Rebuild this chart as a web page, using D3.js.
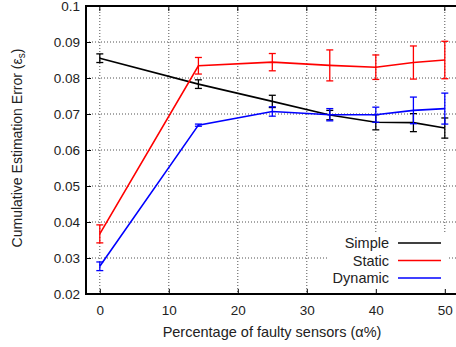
<!DOCTYPE html>
<html>
<head>
<meta charset="utf-8">
<script src="https://cdn.jsdelivr.net/npm/d3@7"></script>
<style>
  html, body { margin: 0; padding: 0; background: #fff; }
  svg { display: block; }
  text { font-family: "Liberation Sans", Arial, sans-serif; fill: #222; }
</style>
</head>
<body>
<svg id="chart" width="456" height="347"></svg>
<script>
// Percentage of faulty sensors
const alphaPct = [0, 14.29, 25, 33.33, 40, 45.45, 50];

// Cumulative estimation error per method, with error-bar half-widths
const simpleVals  = [0.0855, 0.0783, 0.0735, 0.0697, 0.0677, 0.0676, 0.0661];
const simpleErr   = [0.0012, 0.0012, 0.0017, 0.0013, 0.0021, 0.0025, 0.0028];
const staticVals  = [0.0367, 0.0834, 0.0844, 0.0835, 0.0830, 0.0843, 0.0850];
const staticErr   = [0.0025, 0.0023, 0.0024, 0.0043, 0.0034, 0.0046, 0.0052];
const dynamicVals = [0.0277, 0.0669, 0.0707, 0.0698, 0.0698, 0.0710, 0.0715];
const dynamicErr  = [0.0012, 0.0003, 0.0013, 0.0017, 0.0021, 0.0037, 0.0043];

const seriesNames  = ["Simple", "Static", "Dynamic"];
const seriesColors = ["#000000", "#ff0000", "#0000ff"];

const xTicks = [0, 10, 20, 30, 40, 50];
const yTicks = [0.02, 0.03, 0.04, 0.05, 0.06, 0.07, 0.08, 0.09, 0.1];

const series = [
  { name: seriesNames[0], color: seriesColors[0], vals: simpleVals,  err: simpleErr },
  { name: seriesNames[1], color: seriesColors[1], vals: staticVals,  err: staticErr },
  { name: seriesNames[2], color: seriesColors[2], vals: dynamicVals, err: dynamicErr }
];

const svg = d3.select("#chart");
const plotLeft = 86, plotTop = 6, plotBottom = 294;
const x = d3.scaleLinear().domain([-2, 52]).range([plotLeft, plotLeft + 54 * 6.9]);
const y = d3.scaleLinear().domain([0.02, 0.1]).range([plotBottom, plotTop]);
const plotRight = x.range()[1];

// dotted grid
const grid = svg.append("g").attr("stroke", "#333").attr("stroke-width", 1)
  .attr("stroke-dasharray", "1,2").attr("opacity", 0.85);
grid.selectAll("line.gx").data(xTicks).join("line")
  .attr("x1", d => x(d)).attr("x2", d => x(d))
  .attr("y1", plotTop).attr("y2", plotBottom);
grid.selectAll("line.gy").data(yTicks.slice(1, -1)).join("line")
  .attr("x1", plotLeft).attr("x2", plotRight)
  .attr("y1", d => y(d)).attr("y2", d => y(d));

// legend background hides the grid beneath it
svg.append("rect").attr("x", 327).attr("y", 232).attr("width", 120).attr("height", plotBottom - 232)
  .attr("fill", "#fff");

// axes with inward ticks
const xAxis = d3.axisBottom(x).tickValues(xTicks).tickSize(-5).tickPadding(11).tickFormat(d3.format("d"));
const yAxis = d3.axisLeft(y).tickValues(yTicks).tickSize(-5).tickPadding(6).tickFormat(d => d === 0.1 ? "0.1" : d3.format(".2f")(d));

const gx = svg.append("g").attr("transform", `translate(0,${plotBottom})`).call(xAxis);
const gy = svg.append("g").attr("transform", `translate(${plotLeft},0)`).call(yAxis);
[gx, gy].forEach(g => {
  g.select(".domain").remove();
  g.selectAll(".tick line").attr("stroke", "#000").attr("stroke-width", 1);
  g.selectAll(".tick text").attr("font-size", 13.5).attr("fill", "#222")
    .attr("font-family", "'Liberation Sans', Arial, sans-serif");
});
// mirrored ticks on the top border
svg.append("g").selectAll("line").data(xTicks).join("line")
  .attr("x1", d => x(d)).attr("x2", d => x(d)).attr("y1", plotTop).attr("y2", plotTop + 5)
  .attr("stroke", "#000");

// frame
svg.append("rect").attr("x", plotLeft).attr("y", plotTop).attr("width", plotRight - plotLeft).attr("height", plotBottom - plotTop)
  .attr("fill", "none").attr("stroke", "#000").attr("stroke-width", 2);

// series lines with error bars
const line = d3.line().x((d, i) => x(alphaPct[i])).y(d => y(d));
const cap = 3.5;
series.forEach(s => {
  const g = svg.append("g").attr("stroke", s.color).attr("fill", "none").attr("stroke-width", 1.6);
  g.append("path").attr("d", line(s.vals));
  s.vals.forEach((v, i) => {
    const cx = x(alphaPct[i]);
    const y1 = y(v + s.err[i]), y2 = y(v - s.err[i]);
    g.append("line").attr("x1", cx).attr("x2", cx).attr("y1", y1).attr("y2", y2).attr("stroke-width", 1.3);
    g.append("line").attr("x1", cx - cap).attr("x2", cx + cap).attr("y1", y1).attr("y2", y1).attr("stroke-width", 1.3);
    g.append("line").attr("x1", cx - cap).attr("x2", cx + cap).attr("y1", y2).attr("y2", y2).attr("stroke-width", 1.3);
  });
});

// legend
const leg = svg.append("g");
series.forEach((s, i) => {
  const ly = 243 + i * 17.5;
  leg.append("text").attr("x", 389).attr("y", ly + 5).attr("text-anchor", "end")
    .attr("font-size", 14.5).text(s.name);
  leg.append("line").attr("x1", 398).attr("x2", 441).attr("y1", ly).attr("y2", ly)
    .attr("stroke", s.color).attr("stroke-width", 1.6);
});

// axis titles
svg.append("text").attr("x", 272).attr("y", 337).attr("text-anchor", "middle")
  .attr("font-size", 14.5).text("Percentage of faulty sensors (α%)");

const yt = svg.append("text").attr("transform", "translate(22,148) rotate(-90)")
  .attr("text-anchor", "middle").attr("font-size", 14);
yt.append("tspan").text("Cumulative Estimation Error (ε");
yt.append("tspan").attr("font-size", 10).attr("dy", 3).text("s");
yt.append("tspan").attr("dy", -3).text(")");
</script>
</body>
</html>
